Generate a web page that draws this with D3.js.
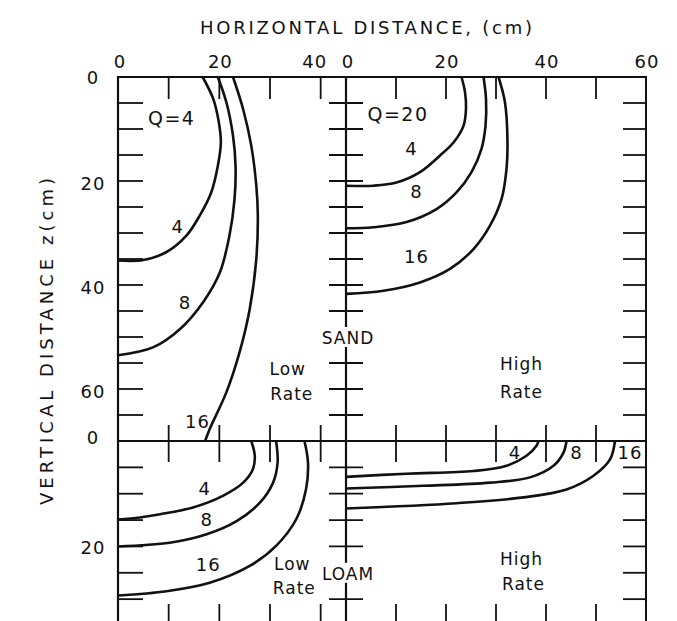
<!DOCTYPE html>
<html>
<head>
<meta charset="utf-8">
<script src="https://cdn.jsdelivr.net/npm/d3@7"></script>
<style>
  body { margin: 0; background: #fff; }
  text { font-family: "DejaVu Sans", Verdana, sans-serif; fill: #111; }
</style>
</head>
<body>
<svg id="chart"></svg>
<script>
// wetting front curves, [horizontal cm, depth cm], label = hours
const sandLow4  = [[16.7,0],[18.8,4.2],[19.9,8.7],[20.3,12.6],[19.7,17.1],[18.4,22.2],[16.1,26.7],[13.5,30.5],[9.5,33.7],[5.0,35.2],[0,35.3]];
const sandLow8  = [[19.7,0],[21.4,4.9],[22.7,11.3],[23.2,17.1],[23.0,23.5],[22.0,30.5],[20.1,37.6],[16.8,43.3],[12.2,48.5],[6.9,52.0],[0,53.5]];
const sandLow16 = [[22.7,0],[24.7,6.2],[26.3,13.2],[27.3,20.9],[27.6,26.7],[27.3,35.0],[26.0,44.6],[24.0,52.9],[21.4,60.6],[18.1,67.7],[17.2,70]];

const sandHigh4  = [[23.1,0],[23.8,2.9],[24.0,6.1],[23.5,9.4],[21.5,12.6],[18.8,15.1],[14.8,18.3],[10.1,20.3],[5.5,20.9],[0,20.9]];
const sandHigh8  = [[27.5,0],[28.0,4.2],[27.9,9.4],[27.1,13.8],[25.1,18.3],[22.1,22.2],[18.1,25.4],[12.1,27.9],[5.5,28.9],[0,29.1]];
const sandHigh16 = [[30.5,0],[31.8,4.9],[32.3,12.6],[32.1,17.7],[31.1,23.5],[28.8,28.6],[25.5,33.1],[20.8,36.9],[14.8,39.5],[7.5,41.1],[0,41.7]];

const loamLow4  = [[26.3,0],[27.0,2.8],[26.6,5.4],[24.7,7.9],[20.7,10.4],[14.8,12.6],[8.3,13.9],[4.3,14.5],[0,14.9]];
const loamLow8  = [[31.2,0],[31.5,4.1],[30.6,7.9],[28.0,11.7],[23.4,15.2],[17.5,17.7],[10.2,19.3],[0,20.0]];
const loamLow16 = [[36.8,0],[37.5,4.1],[37.1,9.2],[35.2,14.8],[31.2,19.9],[26.0,23.7],[18.1,26.9],[9.6,28.5],[0,29.3]];

const loamHigh4  = [[38.5,0],[38.1,0.9],[36.1,2.8],[32.1,4.7],[25.5,5.7],[12.1,6.2],[0,6.8]];
const loamHigh8  = [[44.1,0],[43.5,2.2],[41.5,4.7],[36.8,6.9],[28.8,7.9],[15.5,8.5],[0,9.0]];
const loamHigh16 = [[53.8,0],[52.8,3.5],[49.5,6.6],[44.1,9.2],[35.5,10.7],[22.1,11.8],[0,12.8]];

const leftXTicks = [0, 20, 40];
const rightXTicks = [0, 20, 40, 60];
const topZTicks = [0, 20, 40, 60];
const bottomZTicks = [0, 20];

// labels in data units of each panel
const sandLowLabels  = [["Q=4",10.6,7.9],["4",11.8,28.7],["8",13.2,43.3],["16",15.7,66.2],["Low",33.5,56.2],["Rate",34.3,61]];
const sandHighLabels = [["Q=20",10.4,7.1],["4",13.1,13.8],["8",14.1,22.1],["16",14.1,34.6],["High",35.1,55.2],["Rate",35.1,60.6]];
const loamLowLabels  = [["4",17.1,9.0],["8",17.5,14.9],["16",17.8,23.4],["Low",34.4,23.4],["Rate",34.8,27.8]];
const loamHighLabels = [["4",33.8,2.1],["8",46.1,2.1],["16",56.8,2.1],["High",35.1,22.4],["Rate",35.5,27.2]];

const width = 677, height = 621;
const svg = d3.select("#chart").attr("width", width).attr("height", height);

const xL = d3.scaleLinear().domain([0, 45]).range([118, 346]);
const xR = d3.scaleLinear().domain([0, 60]).range([346, 646]);
const yT = d3.scaleLinear().domain([0, 70]).range([77, 441]);
const yB = d3.scaleLinear().domain([0, 35]).range([441, 625.5]);

const g = svg.append("g");
const ln = (x1, y1, x2, y2, w) => g.append("line")
  .attr("x1", x1).attr("y1", y1).attr("x2", x2).attr("y2", y2)
  .attr("stroke", "#111").attr("stroke-width", w || 1.8);

// frame
ln(118, 77, 646, 77, 2);
ln(118, 76, 118, 630, 2.2);
ln(646, 76, 646, 630, 2);
ln(346, 76, 346, 630, 2.2);
ln(118, 441, 646, 441, 2);
ln(118, 625.5, 646, 625.5, 2);

// horizontal ticks (top edge, divider, bottom edge)
d3.range(10, 45, 10).forEach(v => {
  ln(xL(v), 77, xL(v), 99);
  ln(xL(v), 425, xL(v), 462);
  ln(xL(v), 625, xL(v), 604);
});
d3.range(10, 60, 10).forEach(v => {
  ln(xR(v), 77, xR(v), 99);
  ln(xR(v), 425, xR(v), 462);
  ln(xR(v), 625, xR(v), 604);
});

// vertical ticks (left edge, middle divider, right edge)
d3.range(5, 70, 5).forEach(v => {
  ln(118, yT(v), 143, yT(v));
  ln(623, yT(v), 646, yT(v));
  if (v !== 50) ln(329, yT(v), 363, yT(v));
});
d3.range(5, 35, 5).forEach(v => {
  ln(118, yB(v), 143, yB(v));
  ln(623, yB(v), 646, yB(v));
  if (v !== 25) ln(329, yB(v), 363, yB(v));
});

// curves
const line = (xs, ys) => d3.line().x(d => xs(d[0])).y(d => ys(d[1])).curve(d3.curveCatmullRom.alpha(0.5));
const curves = [
  [sandLow4, xL, yT], [sandLow8, xL, yT], [sandLow16, xL, yT],
  [sandHigh4, xR, yT], [sandHigh8, xR, yT], [sandHigh16, xR, yT],
  [loamLow4, xL, yB], [loamLow8, xL, yB], [loamLow16, xL, yB],
  [loamHigh4, xR, yB], [loamHigh8, xR, yB], [loamHigh16, xR, yB]
];
curves.forEach(([pts, xs, ys]) => {
  g.append("path").attr("d", line(xs, ys)(pts))
    .attr("fill", "none").attr("stroke", "#111").attr("stroke-width", 2.6);
});

// in-panel labels
const labelSets = [[sandLowLabels, xL, yT], [sandHighLabels, xR, yT], [loamLowLabels, xL, yB], [loamHighLabels, xR, yB]];
labelSets.forEach(([labs, xs, ys]) => {
  labs.forEach(([t, x, z]) => {
    const big = t.startsWith("Q");
    const word = /[a-z]/.test(t);
    g.append("text").attr("x", xs(x)).attr("y", ys(z))
      .attr("text-anchor", "middle").attr("dominant-baseline", "central")
      .attr("font-size", big ? 19 : word ? 17 : 18)
      .attr("letter-spacing", big ? 1.5 : 1)
      .text(t);
  });
});

// soil names sitting on the divider
[["SAND", yT(50)], ["LOAM", yB(25)]].forEach(([t, y]) => {
  g.append("rect").attr("x", 318).attr("y", y - 10).attr("width", 58).attr("height", 20).attr("fill", "#fff");
  g.append("text").attr("x", 348).attr("y", y + 1)
    .attr("text-anchor", "middle").attr("dominant-baseline", "central")
    .attr("font-size", 17).attr("letter-spacing", 1).text(t);
});

// axis numbers
leftXTicks.forEach(v => {
  g.append("text").attr("x", xL(v) + (v === 40 ? -6 : v === 0 ? 2 : 1)).attr("y", 61)
    .attr("text-anchor", "middle").attr("dominant-baseline", "central")
    .attr("font-size", 18).attr("letter-spacing", 1).text(v);
});
rightXTicks.forEach(v => {
  g.append("text").attr("x", xR(v) + (v === 0 ? 2 : 1)).attr("y", 61)
    .attr("text-anchor", "middle").attr("dominant-baseline", "central")
    .attr("font-size", 18).attr("letter-spacing", 1).text(v);
});
topZTicks.forEach(v => {
  g.append("text").attr("x", 93).attr("y", yT(v) + (v === 0 ? 0 : 2))
    .attr("text-anchor", "middle").attr("dominant-baseline", "central")
    .attr("font-size", 18).attr("letter-spacing", 1).text(v);
});
bottomZTicks.forEach(v => {
  g.append("text").attr("x", 93).attr("y", yB(v) + (v === 0 ? -4 : 1))
    .attr("text-anchor", "middle").attr("dominant-baseline", "central")
    .attr("font-size", 18).attr("letter-spacing", 1).text(v);
});

// axis titles
g.append("text").attr("x", 200).attr("y", 27)
  .attr("dominant-baseline", "central")
  .attr("font-size", 18).attr("textLength", 332).attr("lengthAdjust", "spacing")
  .text("HORIZONTAL DISTANCE, (cm)");
g.append("text").attr("transform", "translate(46,505) rotate(-90)")
  .attr("dominant-baseline", "central")
  .attr("font-size", 18).attr("textLength", 327).attr("lengthAdjust", "spacing")
  .text("VERTICAL DISTANCE z(cm)");
</script>
</body>
</html>
